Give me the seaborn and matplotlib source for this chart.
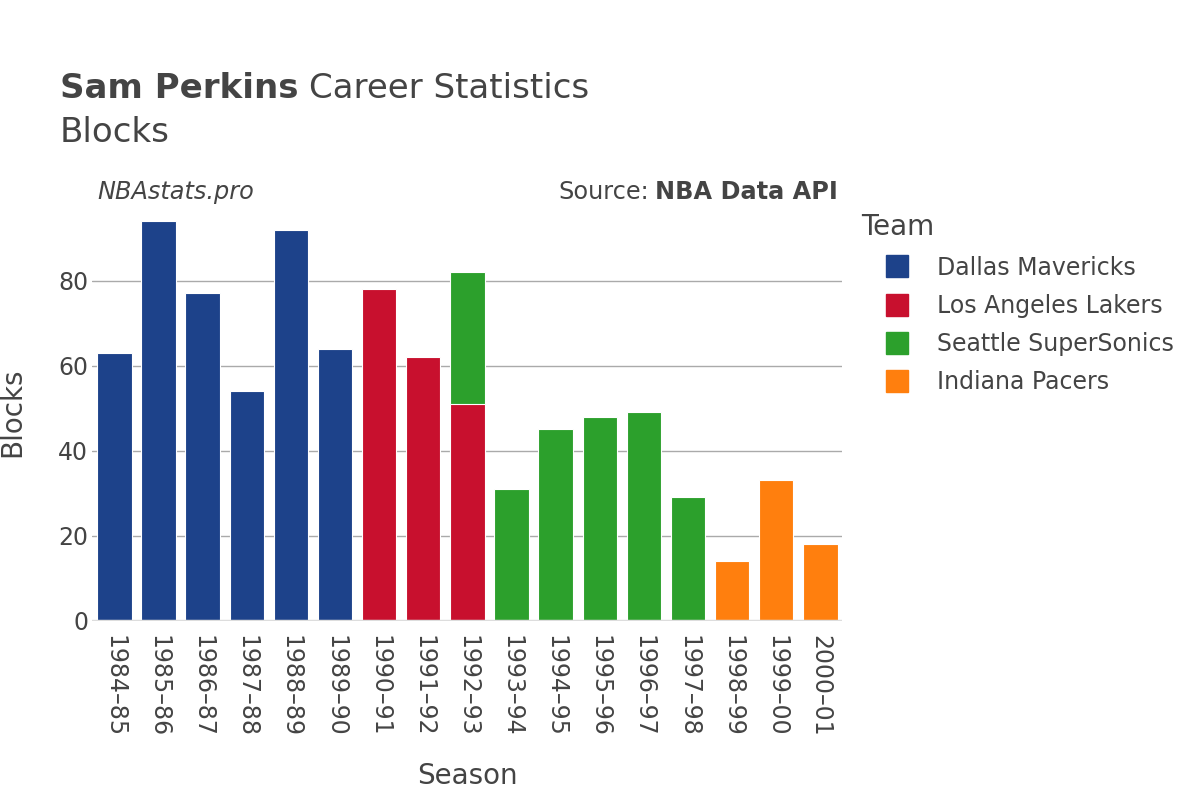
import pandas as pd
import matplotlib.pyplot as plt
import seaborn as sns
from matplotlib.lines import Line2D

# Saison, takım ve blok verileri (1992-93 iki takımda)
seasons = ["1984–85", "1985–86", "1986–87", "1987–88", "1988–89", "1989–90",
           "1990–91", "1991–92", "1992–93", "1992–93", "1993–94", "1994–95",
           "1995–96", "1996–97", "1997–98", "1998–99", "1999–00", "2000–01"]
teams = ["Dallas Mavericks"] * 6 + ["Los Angeles Lakers"] * 3 + \
        ["Seattle SuperSonics"] * 6 + ["Indiana Pacers"] * 3
blocks = [63, 94, 77, 54, 92, 64, 78, 62, 51, 31, 31, 45, 48, 49, 29, 14, 33, 18]

team_order = ["Dallas Mavericks", "Los Angeles Lakers", "Seattle SuperSonics", "Indiana Pacers"]
renkler = {"Dallas Mavericks": "#1d428a", "Los Angeles Lakers": "#c8102e",
           "Seattle SuperSonics": "#2ca02c", "Indiana Pacers": "#ff7f0e"}
season_order = list(dict.fromkeys(seasons))

df = pd.DataFrame({"season": seasons, "team": teams, "blocks": blocks})
# Üst üste yığma: aynı sezondaki önceki takımların toplamını ekle
df["top"] = df.groupby("season")["blocks"].cumsum()
df["first"] = ~df.duplicated("season")

sns.set_style("white")
plt.rcParams["font.family"] = ["DejaVu Sans"]
text_col = "#444444"

fig = plt.figure(figsize=(12, 8), dpi=100)
ax = fig.add_axes([0.077, 0.224, 0.625, 0.521])

# Önce yığının üst parçaları, sonra alt parçalar
ust = df[~df["first"]]
alt = df[df["first"]]
sns.barplot(data=ust, x="season", y="top", hue="team", order=season_order,
            hue_order=team_order, palette=renkler, dodge=False, width=0.78,
            saturation=1, legend=False, ax=ax, zorder=3)
sns.barplot(data=alt, x="season", y="top", hue="team", order=season_order,
            hue_order=team_order, palette=renkler, dodge=False, width=0.78,
            saturation=1, legend=False, ax=ax, zorder=3)
for p in ax.patches:
    p.set_edgecolor("white")
    p.set_linewidth(0.8)

ax.set_xlim(-0.5, len(season_order) - 0.5)
ax.set_ylim(0, 98)
ax.set_yticks([0, 20, 40, 60, 80])
ax.grid(axis="y", color="#aaaaaa", linewidth=1, zorder=0)
ax.axhline(0, color="#dddddd", linewidth=2.5, zorder=4)
for s in ax.spines.values():
    s.set_visible(False)
ax.tick_params(axis="x", labelrotation=-90, labelsize=17, colors=text_col, length=0, pad=10)
ax.tick_params(axis="y", labelsize=17, colors=text_col, length=0, pad=3)
ax.set_xlabel("Season", fontsize=20, color=text_col, labelpad=18)
ax.set_ylabel("Blocks", fontsize=20, color=text_col)
ax.yaxis.set_label_coords(-0.088, 0.5)

# Başlık: kalın isim + normal metin yan yana
r = fig.canvas.get_renderer()
t1 = fig.text(0.05, 0.89, "Sam Perkins", fontsize=24.5, fontweight="bold", color=text_col, va="center")
bb = t1.get_window_extent(renderer=r)
fig.text(bb.x1 / 1200 + 0.009, 0.89, "Career Statistics", fontsize=24.5, color=text_col, va="center")
fig.text(0.05, 0.835, "Blocks", fontsize=24.5, color=text_col, va="center")
fig.text(0.081, 0.76, "NBAstats.pro", fontsize=17.3, style="italic", color=text_col, va="center")
t2 = fig.text(0.698, 0.76, "NBA Data API", fontsize=17.3, fontweight="bold", color=text_col,
              va="center", ha="right")
bb2 = t2.get_window_extent(renderer=r)
fig.text(bb2.x0 / 1200 - 0.005, 0.76, "Source:", fontsize=17.3, color=text_col, va="center", ha="right")

handles = [Line2D([], [], marker="s", linestyle="", markersize=16,
                  markerfacecolor=renkler[t], markeredgecolor=renkler[t]) for t in team_order]
leg = fig.legend(handles, team_order, title="Team", loc="upper left",
                 bbox_to_anchor=(0.710, 0.745), frameon=False, fontsize=17,
                 title_fontsize=20, labelspacing=0.6, handletextpad=0.2, borderaxespad=0,
                 handlelength=3.0)
leg._legend_box.align = "left"
for t in leg.get_texts():
    t.set_color(text_col)
leg.get_title().set_color(text_col)

fig.savefig("out.png", dpi=100)
